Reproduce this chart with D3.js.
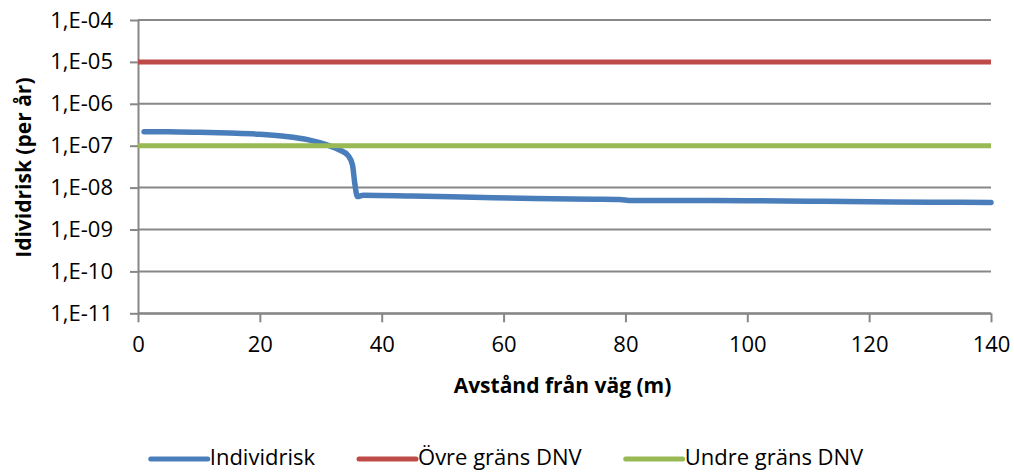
<!DOCTYPE html>
<html>
<head>
<meta charset="utf-8">
<script src="https://cdn.jsdelivr.net/npm/d3@7"></script>
<style>
  body { margin: 0; background: #fff; }
  text { font-family: "Open Sans", sans-serif; fill: #000; }
</style>
</head>
<body>
<script>
"use strict";

// distance from road (m) and individual risk per year
let distances = [1, 5, 10, 15, 20, 24, 28, 31, 33, 34.5, 35.2, 35.6, 36, 37, 45, 55, 65, 75, 79, 81, 90, 100, 110, 120, 130, 140];
let riskValues = [2.15e-7, 2.14e-7, 2.08e-7, 2.0e-7, 1.88e-7, 1.68e-7, 1.38e-7, 1.05e-7, 8.0e-8, 5.8e-8, 3.5e-8, 1.2e-8, 6.1e-9, 6.6e-9, 6.3e-9, 5.9e-9, 5.5e-9, 5.3e-9, 5.2e-9, 4.9e-9, 4.9e-9, 4.85e-9, 4.75e-9, 4.6e-9, 4.5e-9, 4.4e-9];

let limitX = [0, 140];
let upperLimit = [1e-5, 1e-5];   // Övre gräns DNV
let lowerLimit = [1e-7, 1e-7];   // Undre gräns DNV

let xTicks = [0, 20, 40, 60, 80, 100, 120, 140];
let yTicks = [1e-4, 1e-5, 1e-6, 1e-7, 1e-8, 1e-9, 1e-10, 1e-11];
let yTickLabels = ["1,E-04", "1,E-05", "1,E-06", "1,E-07", "1,E-08", "1,E-09", "1,E-10", "1,E-11"];

let seriesNames = ["Individrisk", "Övre gräns DNV", "Undre gräns DNV"];
let seriesColors = ["#4A7EBB", "#BE4B48", "#98B954"];

let width = 1014, height = 472;
let plot = {left: 138, right: 991, top: 20, bottom: 313.3};
let gridColor = "#878787";

let svg = d3.select("body").append("svg")
	.attr("width", width)
	.attr("height", height);

let xScale = d3.scaleLinear().domain([0, 140]).range([plot.left, plot.right]);
let yScale = d3.scaleLog().domain([1e-11, 1e-4]).range([plot.bottom, plot.top]);

// horizontal gridlines
svg.append("g").selectAll("line")
	.data(yTicks)
	.enter().append("line")
		.attr("x1", plot.left)
		.attr("x2", plot.right)
		.attr("y1", d => yScale(d))
		.attr("y2", d => yScale(d))
		.attr("stroke", gridColor)
		.attr("stroke-width", 2);

// y axis
let yAxis = d3.axisLeft(yScale)
	.tickValues(yTicks)
	.tickFormat((d, i) => yTickLabels[i])
	.tickSizeInner(8)
	.tickSizeOuter(0)
	.tickPadding(17);

let yG = svg.append("g")
	.attr("transform", "translate(" + plot.left + ",0)")
	.call(yAxis);
yG.select(".domain").attr("stroke", gridColor).attr("stroke-width", 2);
yG.selectAll(".tick line").attr("stroke", gridColor).attr("stroke-width", 2);
yG.selectAll(".tick text")
	.style("font-family", "Open Sans")
	.style("font-size", "22px")
	.attr("fill", "#000");

// x axis
let xAxis = d3.axisBottom(xScale)
	.tickValues(xTicks)
	.tickSizeInner(9)
	.tickSizeOuter(0)
	.tickPadding(14);

let xG = svg.append("g")
	.attr("transform", "translate(0," + plot.bottom + ")")
	.call(xAxis);
xG.select(".domain").attr("stroke", gridColor).attr("stroke-width", 2);
xG.selectAll(".tick line").attr("stroke", gridColor).attr("stroke-width", 2);
xG.selectAll(".tick text")
	.style("font-family", "Open Sans")
	.style("font-size", "22px")
	.attr("fill", "#000");

// axis titles
svg.append("text")
	.attr("x", (plot.left + plot.right) / 2 - 2)
	.attr("y", 393)
	.attr("text-anchor", "middle")
	.style("font-size", "21px")
	.style("font-weight", "bold")
	.text("Avstånd från väg (m)");

svg.append("text")
	.attr("transform", "translate(31," + ((plot.top + plot.bottom) / 2 + 1) + ") rotate(-90)")
	.attr("text-anchor", "middle")
	.style("font-size", "21px")
	.style("font-weight", "bold")
	.text("Idividrisk (per år)");

// series
let riskData = distances.map((d, i) => ({x: d, y: riskValues[i]}));
let upperData = limitX.map((d, i) => ({x: d, y: upperLimit[i]}));
let lowerData = limitX.map((d, i) => ({x: d, y: lowerLimit[i]}));

let line = d3.line()
	.x(d => xScale(d.x))
	.y(d => yScale(d.y))
	.curve(d3.curveMonotoneX);

let allSeries = [riskData, upperData, lowerData];
let strokeWidths = [5.5, 5, 5];

svg.append("g").selectAll("path")
	.data(allSeries)
	.enter().append("path")
		.attr("d", line)
		.attr("fill", "none")
		.attr("stroke", (d, i) => seriesColors[i])
		.attr("stroke-width", (d, i) => strokeWidths[i])
		.attr("stroke-linecap", (d, i) => i === 0 ? "round" : "butt")
		.attr("stroke-linejoin", "round");

// legend
let legendY = 459;
let legend = svg.append("g");
let itemX = 0;
let lineLen = 57, textGap = 2, itemGap = 44;

seriesNames.forEach(function (name, i) {
	let item = legend.append("g").attr("transform", "translate(" + itemX + ",0)");
	item.append("line")
		.attr("x1", 0)
		.attr("x2", lineLen)
		.attr("y1", legendY)
		.attr("y2", legendY)
		.attr("stroke", seriesColors[i])
		.attr("stroke-width", 5)
		.attr("stroke-linecap", "round");
	let t = item.append("text")
		.attr("x", lineLen + textGap)
		.attr("y", legendY + 6)
		.style("font-size", "22px")
		.text(name);
	itemX += lineLen + textGap + t.node().getComputedTextLength() + itemGap;
});

let legendWidth = itemX - itemGap;
legend.attr("transform", "translate(" + (width / 2 - legendWidth / 2) + ",0)");
</script>
</body>
</html>
